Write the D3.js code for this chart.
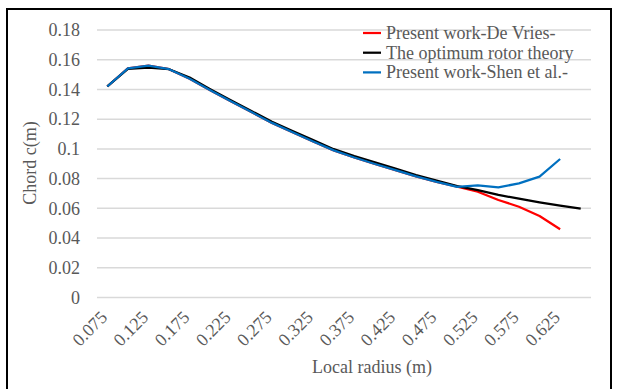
<!DOCTYPE html>
<html>
<head>
<meta charset="utf-8">
<script src="https://cdn.jsdelivr.net/npm/d3@7"></script>
<style>
  html, body { margin: 0; padding: 0; background: #fff; }
  svg { display: block; }
  text { font-family: "Liberation Serif", "Times New Roman", serif; fill: #595959; }
</style>
</head>
<body>
<svg id="chart" width="617" height="389"></svg>
<script>
// Local radius stations (m)
const radius = [0.075, 0.1, 0.125, 0.15, 0.175, 0.2, 0.225, 0.25, 0.275, 0.3, 0.325, 0.35,
                0.375, 0.4, 0.425, 0.45, 0.475, 0.5, 0.525, 0.55, 0.575, 0.6, 0.625, 0.65];
const radiusLabels = radius.map(r => String(r));

// Chord distributions c(m)
const deVries = [0.142, 0.1542, 0.156, 0.1536, 0.1472, 0.1395, 0.132, 0.1248, 0.1175, 0.1112,
                 0.105, 0.099, 0.0942, 0.0898, 0.0857, 0.0815, 0.0778, 0.0746, 0.0712, 0.0656,
                 0.0611, 0.0548, 0.0459];
const optimum = [0.142, 0.1538, 0.1547, 0.1536, 0.148, 0.1402, 0.1327, 0.1255, 0.1183, 0.1121,
                 0.106, 0.0998, 0.0952, 0.091, 0.0867, 0.0824, 0.0786, 0.075, 0.0722, 0.069,
                 0.0665, 0.064, 0.0618, 0.0598];
const shen = [0.142, 0.1542, 0.156, 0.1536, 0.1472, 0.1395, 0.132, 0.1248, 0.1175, 0.1112,
              0.105, 0.099, 0.0942, 0.0898, 0.0857, 0.0815, 0.0778, 0.0745, 0.0755, 0.0741,
              0.0768, 0.0813, 0.0932];

const yTicks = [0, 0.02, 0.04, 0.06, 0.08, 0.1, 0.12, 0.14, 0.16, 0.18];

const series = [
  { name: "Present work-De Vries-", values: deVries, color: "#ff0000" },
  { name: "The optimum rotor theory", values: optimum, color: "#000000" },
  { name: "Present work-Shen et al.-", values: shen, color: "#0070c0" }
];

const FONT = 18;
const svg = d3.select("#chart");
const plot = { left: 97, right: 591, top: 30, bottom: 297.5 };

const x = d3.scaleBand().domain(radiusLabels).range([plot.left, plot.right]);
const y = d3.scaleLinear().domain([0, 0.18]).range([plot.bottom, plot.top]);

// Outer frame
svg.append("rect")
  .attr("x", 7).attr("y", 9).attr("width", 604).attr("height", 384)
  .attr("fill", "none").attr("stroke", "#000").attr("stroke-width", 2);

// Horizontal gridlines
svg.append("g")
  .selectAll("line")
  .data(yTicks)
  .join("line")
  .attr("x1", plot.left).attr("x2", plot.right)
  .attr("y1", d => y(d)).attr("y2", d => y(d))
  .attr("stroke", "#d9d9d9").attr("stroke-width", 1.5);

// Y axis labels
const yAxis = d3.axisLeft(y).tickValues(yTicks).tickSize(0).tickPadding(17)
  .tickFormat(d => d3.format("")(+d.toFixed(2)));
svg.append("g")
  .attr("transform", `translate(${plot.left},0)`)
  .call(yAxis)
  .call(g => g.select(".domain").remove())
  .call(g => g.selectAll("text")
    .attr("font-family", "Liberation Serif").attr("font-size", FONT).attr("fill", "#595959"));

// X axis labels (every other station), rotated
const xAxis = d3.axisBottom(x)
  .tickValues(radiusLabels.filter((d, i) => i % 2 === 0))
  .tickSize(0).tickPadding(0);
svg.append("g")
  .attr("transform", `translate(0,${plot.bottom})`)
  .call(xAxis)
  .call(g => g.select(".domain").remove())
  .call(g => g.selectAll("text")
    .attr("font-family", "Liberation Serif").attr("font-size", FONT).attr("fill", "#595959")
    .attr("text-anchor", "end")
    .attr("dy", 0)
    .attr("transform", "translate(1,21) rotate(-45)"));

// Series lines
const line = d3.line()
  .x((d, i) => x(radiusLabels[i]) + x.bandwidth() / 2)
  .y(d => y(d));

svg.append("g")
  .selectAll("path")
  .data(series)
  .join("path")
  .attr("d", d => line(d.values))
  .attr("fill", "none")
  .attr("stroke", d => d.color)
  .attr("stroke-width", 2.25)
  .attr("stroke-linejoin", "round");

// Legend
const legend = svg.append("g").attr("transform", "translate(363,33)");
const item = legend.selectAll("g")
  .data(series)
  .join("g")
  .attr("transform", (d, i) => `translate(0,${i * 19.7})`);
item.append("line")
  .attr("x1", 0).attr("x2", 18).attr("y1", 0).attr("y2", 0)
  .attr("stroke", d => d.color).attr("stroke-width", 2.25);
item.append("text")
  .attr("x", 23).attr("y", 0).attr("dy", "0.33em")
  .attr("font-size", FONT)
  .text(d => d.name);

// Axis titles
svg.append("text")
  .attr("x", 372).attr("y", 373)
  .attr("text-anchor", "middle").attr("font-size", FONT)
  .text("Local radius (m)");
svg.append("text")
  .attr("transform", "translate(36,163) rotate(-90)")
  .attr("text-anchor", "middle").attr("font-size", FONT)
  .text("Chord c(m)");
</script>
</body>
</html>
